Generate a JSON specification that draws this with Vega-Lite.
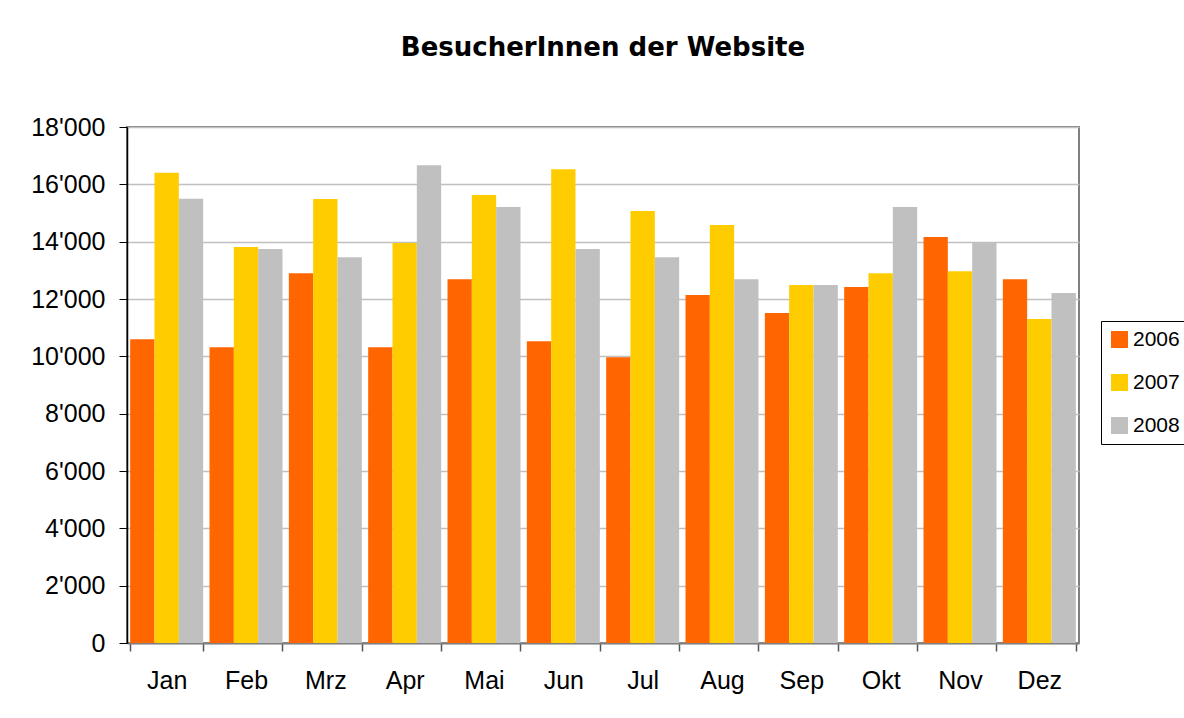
{
  "$schema": "https://vega.github.io/schema/vega-lite/v6.json",
  "autosize": {"type": "none"},
  "padding": {"left": 127, "top": 127, "right": 105, "bottom": 75},
  "width": 952,
  "height": 516,
  "background": "white",
  "title": {
    "text": "BesucherInnen der Website",
    "font": "DejaVu Sans",
    "fontWeight": "bold",
    "fontSize": 26,
    "color": "black",
    "anchor": "middle",
    "offset": 54
  },
  "data": {
    "values": [
      {"month": "Jan", "year": "2006", "value": 10600},
      {"month": "Jan", "year": "2007", "value": 16400},
      {"month": "Jan", "year": "2008", "value": 15500},
      {"month": "Feb", "year": "2006", "value": 10320},
      {"month": "Feb", "year": "2007", "value": 13810},
      {"month": "Feb", "year": "2008", "value": 13740},
      {"month": "Mrz", "year": "2006", "value": 12900},
      {"month": "Mrz", "year": "2007", "value": 15490},
      {"month": "Mrz", "year": "2008", "value": 13460},
      {"month": "Apr", "year": "2006", "value": 10320},
      {"month": "Apr", "year": "2007", "value": 13950},
      {"month": "Apr", "year": "2008", "value": 16670},
      {"month": "Mai", "year": "2006", "value": 12690},
      {"month": "Mai", "year": "2007", "value": 15630},
      {"month": "Mai", "year": "2008", "value": 15210},
      {"month": "Jun", "year": "2006", "value": 10530},
      {"month": "Jun", "year": "2007", "value": 16530},
      {"month": "Jun", "year": "2008", "value": 13740},
      {"month": "Jul", "year": "2006", "value": 9970},
      {"month": "Jul", "year": "2007", "value": 15070},
      {"month": "Jul", "year": "2008", "value": 13460},
      {"month": "Aug", "year": "2006", "value": 12140},
      {"month": "Aug", "year": "2007", "value": 14580},
      {"month": "Aug", "year": "2008", "value": 12690},
      {"month": "Sep", "year": "2006", "value": 11510},
      {"month": "Sep", "year": "2007", "value": 12490},
      {"month": "Sep", "year": "2008", "value": 12490},
      {"month": "Okt", "year": "2006", "value": 12420},
      {"month": "Okt", "year": "2007", "value": 12900},
      {"month": "Okt", "year": "2008", "value": 15210},
      {"month": "Nov", "year": "2006", "value": 14160},
      {"month": "Nov", "year": "2007", "value": 12970},
      {"month": "Nov", "year": "2008", "value": 13950},
      {"month": "Dez", "year": "2006", "value": 12690},
      {"month": "Dez", "year": "2007", "value": 11300},
      {"month": "Dez", "year": "2008", "value": 12210}
    ]
  },
  "mark": {"type": "bar"},
  "encoding": {
    "x": {
      "field": "month",
      "type": "nominal",
      "sort": ["Jan", "Feb", "Mrz", "Apr", "Mai", "Jun", "Jul", "Aug", "Sep", "Okt", "Nov", "Dez"],
      "scale": {"paddingInner": 0.08, "paddingOuter": 0.04},
      "axis": {
        "title": null,
        "labelAngle": 0,
        "tickBand": "extent",
        "tickSize": 8,
        "tickColor": "#555555",
        "tickWidth": 1.5,
        "domainColor": "#808080",
        "domainWidth": 2,
        "labelFont": "Liberation Sans",
        "labelFontSize": 25,
        "labelColor": "black",
        "labelPadding": 17,
        "grid": false
      }
    },
    "xOffset": {"field": "year", "type": "nominal"},
    "y": {
      "field": "value",
      "type": "quantitative",
      "scale": {"domain": [0, 18000], "nice": false},
      "axis": {
        "title": null,
        "values": [0, 2000, 4000, 6000, 8000, 10000, 12000, 14000, 16000, 18000],
        "labelExpr": "replace(format(datum.value, ','), ',', \"'\")",
        "tickSize": 8,
        "tickColor": "black",
        "domainColor": "black",
        "domainWidth": 1.5,
        "labelFont": "Liberation Sans",
        "labelFontSize": 25,
        "labelColor": "black",
        "labelPadding": 14,
        "grid": true,
        "gridColor": "#c0c0c0",
        "gridWidth": 1.3
      }
    },
    "color": {
      "field": "year",
      "type": "nominal",
      "scale": {"domain": ["2006", "2007", "2008"], "range": ["#FF6600", "#FFCC00", "#C0C0C0"]},
      "legend": {
        "title": null,
        "orient": "none",
        "legendX": 974,
        "legendY": 194,
        "strokeColor": "black",
        "fillColor": "white",
        "padding": 8,
        "symbolType": "square",
        "symbolSize": 289,
        "symbolStrokeWidth": 0,
        "symbolOpacity": 1,
        "labelFont": "Liberation Sans",
        "labelFontSize": 21,
        "labelColor": "black",
        "labelOffset": 3,
        "rowPadding": 21
      }
    }
  },
  "config": {
    "view": {"stroke": "#808080", "strokeWidth": 2},
    "legend": {"symbolOffset": 0}
  }
}
